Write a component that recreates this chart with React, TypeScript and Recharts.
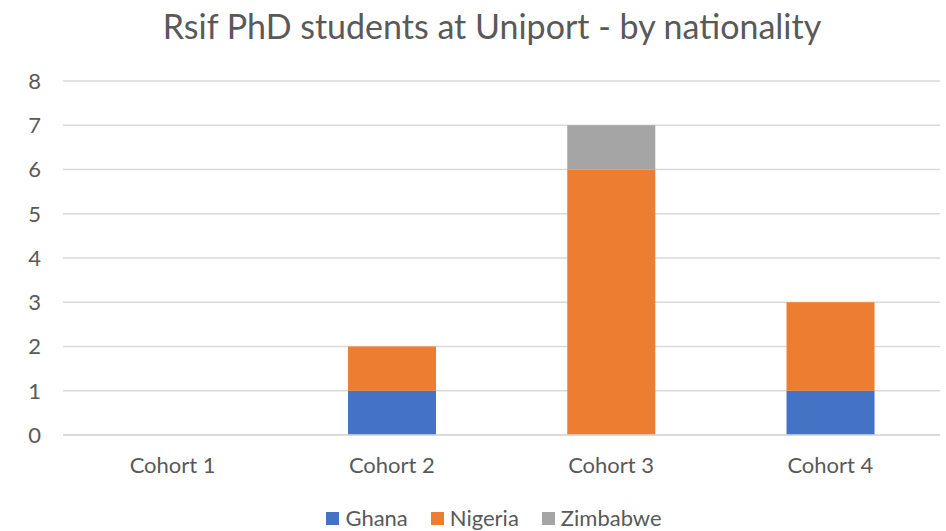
import React from 'react';
import { BarChart, Bar, XAxis, YAxis, CartesianGrid, Legend } from 'recharts';

const cohorts = ['Cohort 1', 'Cohort 2', 'Cohort 3', 'Cohort 4'];
const ghana = [0, 1, 0, 1];
const nigeria = [0, 1, 6, 2];
const zimbabwe = [0, 0, 1, 0];
const yTicks = [0, 1, 2, 3, 4, 5, 6, 7, 8];

const SERIES = [
  { key: 'Ghana', color: '#4472C4' },
  { key: 'Nigeria', color: '#ED7D31' },
  { key: 'Zimbabwe', color: '#A5A5A5' },
];

const FONT = 'Lato, "Open Sans", sans-serif';
const TEXT = '#595959';
const GRID = '#D9D9D9';

const data = cohorts.map((name, i) => ({
  name,
  Ghana: ghana[i],
  Nigeria: nigeria[i],
  Zimbabwe: zimbabwe[i],
}));

const LegendContent = () => (
  <div style={{ display: 'flex', justifyContent: 'center', gap: 23, fontFamily: FONT, fontSize: 22, lineHeight: '26px', color: TEXT, paddingLeft: 48 }}>
    {SERIES.map((s) => (
      <div key={s.key} style={{ display: 'flex', alignItems: 'center' }}>
        <span style={{ width: 13, height: 13, background: s.color, display: 'inline-block', marginRight: 6 }} />
        <span>{s.key}</span>
      </div>
    ))}
  </div>
);

export default function App() {
  return (
    <div style={{ position: 'absolute', left: 0, top: 0, width: 946, height: 531, background: '#fff' }}>
      <div style={{ position: 'absolute', left: 0, top: 5, width: 984, textAlign: 'center', fontFamily: FONT, fontSize: 34, color: TEXT }}>
        Rsif PhD students at Uniport - by nationality
      </div>
      <BarChart
        width={946}
        height={531}
        data={data}
        margin={{ top: 81, right: 6, left: 0, bottom: 0 }}
        barCategoryGap="30%"
        style={{ fontFamily: FONT }}
      >
        <CartesianGrid vertical={false} stroke={GRID} strokeWidth={1.3} />
        <XAxis
          dataKey="name"
          axisLine={{ stroke: GRID, strokeWidth: 1.3 }}
          tickLine={false}
          tickSize={0}
          tickMargin={22}
          height={70}
          tick={{ fill: TEXT, fontSize: 22 }}
        />
        <YAxis
          domain={[0, 8]}
          ticks={yTicks}
          axisLine={false}
          tickLine={false}
          tickSize={0}
          tickMargin={22}
          width={63}
          tick={{ fill: TEXT, fontSize: 22 }}
        />
        <Legend verticalAlign="bottom" height={26} content={<LegendContent />} />
        {SERIES.map((s) => (
          <Bar key={s.key} dataKey={s.key} stackId="a" fill={s.color} isAnimationActive={false} />
        ))}
      </BarChart>
    </div>
  );
}
